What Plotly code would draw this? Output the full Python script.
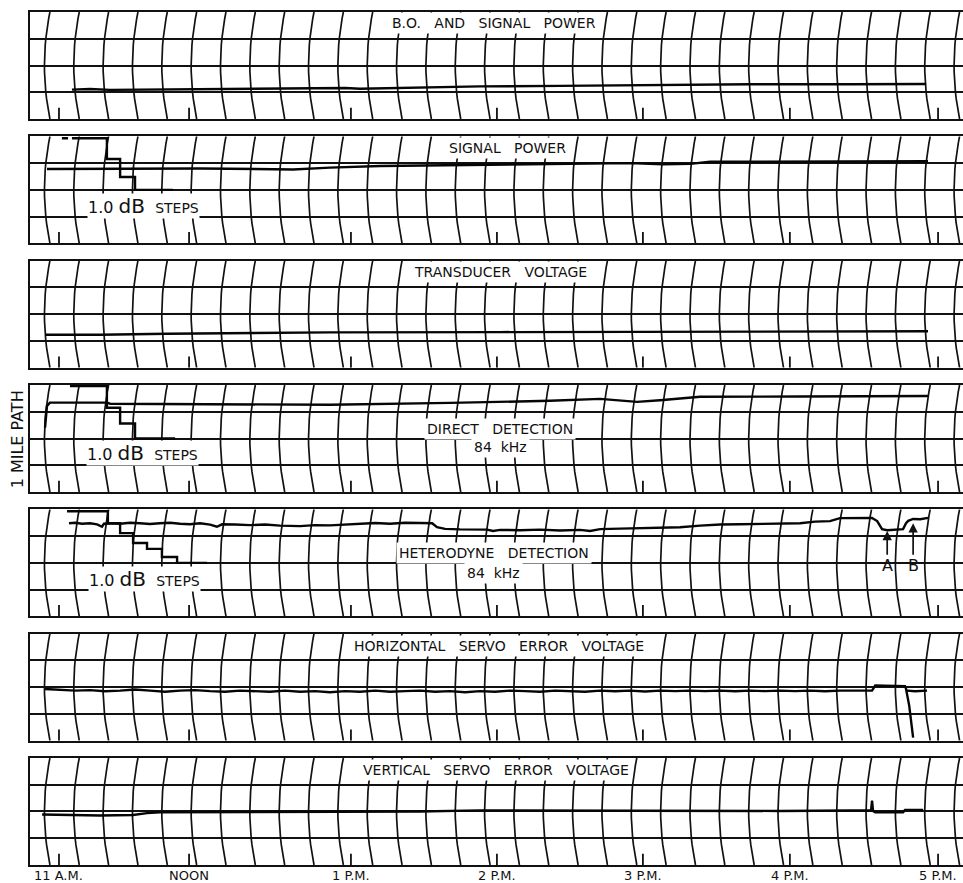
import plotly.graph_objects as go
from plotly.subplots import make_subplots

# ---------------------------------------------------------------
# Recorder strip charts, 1 mile path.  Time is minutes after 11 A.M.
# (recorder chart time), readings are in chart divisions (0 = bottom,
# 4 = top of each strip).
# ---------------------------------------------------------------

hour_marks = [0.4, 53.6, 119.8, 179.5, 239.2, 299.3, 359.9]
hour_labels = ["11 A.M.", "NOON", "1 P.M.", "2 P.M.", "3 P.M.", "4 P.M.", "5 P.M."]

# B.O. and signal power
bo_t = [5.7, 13.1, 21.3, 37.6, 58.1, 78.5, 99.0, 117.4, 123.5, 148.1, 172.6, 205.3, 242.1, 283.0, 323.9, 355.0]
bo_v = [1.10, 1.12, 1.09, 1.10, 1.12, 1.12, 1.14, 1.16, 1.13, 1.18, 1.22, 1.24, 1.28, 1.30, 1.30, 1.31]

# Signal power
sig_t = [-4.5, 21.3, 58.1, 96.1, 111.2, 131.7, 193.0, 233.9, 247.4, 258.5, 266.7, 303.5, 355.8]
sig_v = [2.78, 2.79, 2.80, 2.76, 2.83, 2.89, 2.95, 3.00, 2.95, 2.97, 3.05, 3.06, 3.07]
sig_cal_t = [1.6, 4.1, None, 5.7, 20.0, 20.0, 25.4, 25.4, 31.5, 31.5, 47.0]
sig_cal_v = [3.93, 3.93, None, 3.93, 3.93, 3.15, 3.15, 2.48, 2.48, 2.00, 2.00]

# Transducer voltage
trans_t = [-5.3, 17.2, 44.6, 85.5, 111.2, 180.8, 262.6, 355.8]
trans_v = [1.23, 1.23, 1.27, 1.31, 1.32, 1.33, 1.35, 1.36]

# Direct detection, 84 kHz
direct_t = [-5.3, -4.5, -3.3, 20.0, 21.3, 58.1, 111.2, 160.3, 201.2, 221.7, 236.8, 246.2, 262.6, 303.5, 355.8]
direct_v = [2.41, 3.22, 3.34, 3.34, 3.30, 3.29, 3.26, 3.33, 3.41, 3.48, 3.37, 3.43, 3.56, 3.57, 3.59]
direct_cal_t = [4.9, 20.0, 20.0, 25.4, 25.4, 31.5, 31.5, 47.9]
direct_cal_v = [3.96, 3.96, 3.15, 3.15, 2.56, 2.56, 2.00, 2.00]

# Heterodyne detection, 84 kHz
het_t = [4.5, 7.0, 9.8, 13.1, 16.0, 18.0, 18.8, 22.1, 25.4, 29.4, 33.5, 37.6, 41.7, 45.8, 49.9,
         54.0, 58.1, 62.2, 65.0, 67.1, 72.4, 78.5, 84.7, 90.8, 99.0, 105.1, 111.2, 117.4, 123.5,
         129.7, 135.8, 141.9, 148.1, 153.0, 155.0, 158.3, 164.4, 170.6, 175.5, 177.9, 180.8,
         189.0, 197.1, 205.3, 213.5, 217.6, 221.7, 229.9, 238.0, 246.2, 254.4, 262.6, 270.8,
         278.9, 287.1, 295.3, 303.5, 309.6, 315.7, 319.8, 326.0, 332.9, 335.0, 337.0, 339.1,
         342.3, 345.6, 346.8, 347.7, 349.7, 352.6, 355.8]
het_v = [3.48, 3.50, 3.46, 3.48, 3.44, 3.35, 3.46, 3.48, 3.46, 3.50, 3.48, 3.45, 3.48, 3.50, 3.46,
         3.44, 3.48, 3.43, 3.35, 3.44, 3.43, 3.41, 3.43, 3.39, 3.37, 3.41, 3.40, 3.43, 3.44,
         3.49, 3.46, 3.50, 3.49, 3.48, 3.33, 3.27, 3.25, 3.26, 3.24, 3.19, 3.23,
         3.22, 3.24, 3.21, 3.23, 3.19, 3.26, 3.28, 3.30, 3.31, 3.33, 3.39, 3.43,
         3.44, 3.46, 3.47, 3.48, 3.54, 3.56, 3.67, 3.67, 3.68, 3.56, 3.26, 3.22,
         3.24, 3.26, 3.48, 3.57, 3.64, 3.63, 3.68]
het_cal_t = [3.7, 20.4, 20.4, 25.4, 25.4, 30.7, 30.7, 36.4, 36.4, 42.5, 42.5, 48.7, 48.7, 60.9]
het_cal_v = [3.93, 3.93, 3.48, 3.48, 3.11, 3.11, 2.74, 2.74, 2.52, 2.52, 2.22, 2.22, 2.00, 2.00]
event_t = [339.1, 349.7]
event_v = [3.19, 3.48]
event_labels = ["A", "B"]

# Horizontal servo error voltage
hor_t = [-5.3, 0.8, 7.0, 13.1, 19.2, 25.4, 31.5, 37.6, 43.8, 49.9, 56.0, 62.2, 68.3, 74.4,
         80.6, 86.7, 92.8, 99.0, 105.1, 111.2, 117.4, 123.5, 129.7, 135.8, 141.9, 148.1,
         154.2, 160.3, 166.5, 172.6, 178.7, 184.9, 191.0, 197.1, 203.3, 209.4, 215.5, 221.7,
         227.8, 233.9, 240.1, 246.2, 252.4, 258.5, 264.6, 270.8, 276.9, 283.0, 289.2, 295.3,
         301.4, 307.6, 313.7, 319.8, 326.0, 332.9, 334.2, 340.3, 346.4, 346.8, 348.1, 349.7]
hor_v = [1.93, 1.91, 1.87, 1.89, 1.85, 1.87, 1.91, 1.87, 1.83, 1.87, 1.89, 1.85, 1.83, 1.87,
         1.85, 1.83, 1.87, 1.83, 1.85, 1.81, 1.85, 1.83, 1.87, 1.83, 1.85, 1.87,
         1.83, 1.85, 1.81, 1.85, 1.83, 1.87, 1.85, 1.83, 1.87, 1.85, 1.83, 1.87,
         1.85, 1.87, 1.84, 1.87, 1.85, 1.87, 1.85, 1.87, 1.85, 1.87, 1.85, 1.87,
         1.85, 1.87, 1.85, 1.87, 1.86, 1.87, 2.06, 2.04, 2.04, 1.94, 1.31, 0.11]
hor_tail_t = [347.2, 350.5, 355.4]
hor_tail_v = [1.87, 1.85, 1.87]

# Vertical servo error voltage
ver_t = [-6.5, 4.9, 17.2, 30.7, 36.4, 41.7, 78.5, 99.0, 112.5, 148.1, 172.6, 205.3, 238.0,
         262.6, 295.3, 323.9, 332.5, 332.9, 333.3, 334.2, 345.6, 346.4, 353.8]
ver_v = [1.89, 1.88, 1.85, 1.87, 1.94, 1.97, 1.98, 1.97, 2.00, 2.00, 2.04, 2.03, 2.04,
         2.01, 2.02, 2.04, 2.04, 2.41, 2.02, 1.97, 1.97, 2.06, 2.06]

panel_titles = [
    ["B.O.   AND   SIGNAL   POWER"],
    ["SIGNAL   POWER"],
    ["TRANSDUCER   VOLTAGE"],
    ["DIRECT   DETECTION", "84  kHz"],
    ["HETERODYNE   DETECTION", "84  kHz"],
    ["HORIZONTAL   SERVO   ERROR   VOLTAGE"],
    ["VERTICAL   SERVO   ERROR   VOLTAGE"],
]
title_t = [178.1, 183.8, 180.8, 180.8, 178.1, 180.2, 179.1]
title_v = [[3.58], [3.56], [3.59], [2.37, 1.70], [2.37, 1.63], [3.55], [3.56]]

step_rows = [2, 4, 5]
step_t = [35.0, 34.4, 35.2]
step_v = [1.38, 1.44, 1.40]

# ---------------------------------------------------------------
INK = "#111111"
FONT = "DejaVu Sans"
X_RANGE = [-11.45, 370.1]
N_ROWS = 7

fig = make_subplots(rows=N_ROWS, cols=1, shared_xaxes=False, vertical_spacing=0.0203)


def chart_arcs():
    """Curved time lines of the recorder paper, one every 12 minutes."""
    xs, ys = [], []
    sag = 2.25
    start = -3.3
    k = 0
    while start + 12.0 * k < X_RANGE[1] + 3:
        x0 = start + 12.0 * k
        for i in range(17):
            v = 4.0 * i / 16
            xs.append(x0 - sag * (1 - ((v - 2.0) / 2.0) ** 2))
            ys.append(v)
        xs.append(None)
        ys.append(None)
        k += 1
    return xs, ys


def timing_marks():
    xs, ys = [], []
    for t in hour_marks:
        xs += [t, t, None]
        ys += [0, 0.42, None]
    return xs, ys


arc_x, arc_y = chart_arcs()
mark_x, mark_y = timing_marks()

series = {
    1: [(bo_t, bo_v)],
    2: [(sig_t, sig_v), (sig_cal_t, sig_cal_v)],
    3: [(trans_t, trans_v)],
    4: [(direct_t, direct_v), (direct_cal_t, direct_cal_v)],
    5: [(het_t, het_v), (het_cal_t, het_cal_v)],
    6: [(hor_t, hor_v), (hor_tail_t, hor_tail_v)],
    7: [(ver_t, ver_v)],
}

for r in range(1, N_ROWS + 1):
    fig.add_trace(go.Scatter(x=arc_x, y=arc_y, mode="lines",
                             line=dict(color=INK, width=1.7),
                             hoverinfo="skip", showlegend=False), row=r, col=1)
    fig.add_trace(go.Scatter(x=mark_x, y=mark_y, mode="lines",
                             line=dict(color=INK, width=1.8),
                             hoverinfo="skip", showlegend=False), row=r, col=1)
    for tx, vy in series[r]:
        fig.add_trace(go.Scatter(x=tx, y=vy, mode="lines",
                                 line=dict(color="#050505", width=2.4),
                                 connectgaps=False,
                                 hoverinfo="skip", showlegend=False), row=r, col=1)
    fig.update_xaxes(range=X_RANGE, showgrid=False, zeroline=False,
                     showticklabels=False, ticks="",
                     showline=True, linecolor=INK, linewidth=2.2, mirror=True,
                     row=r, col=1)
    fig.update_yaxes(range=[0, 4], dtick=1, showgrid=True, gridcolor=INK, gridwidth=1.6,
                     zeroline=False, showticklabels=False, ticks="",
                     showline=True, linecolor=INK, linewidth=2.2, mirror=False,
                     row=r, col=1)

annotations = []


def axis_refs(r):
    return ("x" if r == 1 else f"x{r}"), ("y" if r == 1 else f"y{r}")


# Strip titles
for r in range(1, N_ROWS + 1):
    xr, yr = axis_refs(r)
    for txt, v in zip(panel_titles[r - 1], title_v[r - 1]):
        annotations.append(dict(
            x=title_t[r - 1], y=v, xref=xr, yref=yr, showarrow=False,
            text=txt.replace(" ", "\u00a0"),
            font=dict(family=FONT, size=14, color=INK),
            bgcolor="white", borderpad=2))

# Calibration step labels
for r, t, v in zip(step_rows, step_t, step_v):
    xr, yr = axis_refs(r)
    annotations.append(dict(
        x=t, y=v, xref=xr, yref=yr, showarrow=False,
        text="1.0\u00a0<span style='font-size:20px'>dB</span>\u00a0\u00a0"
             "<span style='font-size:14px'>STEPS</span>",
        font=dict(family=FONT, size=16, color=INK),
        bgcolor="white", borderpad=0))

# Event arrows A and B on the heterodyne strip
xr, yr = axis_refs(5)
for t, v, lab in zip(event_t, event_v, event_labels):
    annotations.append(dict(
        x=t, y=v, xref=xr, yref=yr, ax=t, ay=1.89, axref=xr, ayref=yr,
        text=lab, showarrow=True, arrowhead=2, arrowsize=1.1, arrowwidth=1.7,
        arrowcolor=INK, standoff=0, startstandoff=0,
        font=dict(family=FONT, size=16, color=INK)))

# Time labels beneath the last strip
xr, yr = axis_refs(N_ROWS)
for t, lab in zip(hour_marks, hour_labels):
    annotations.append(dict(
        x=t, y=0, xref=xr, yref=yr, yshift=-2, yanchor="top", showarrow=False,
        text=lab.replace(" ", "\u00a0"),
        font=dict(family=FONT, size=13, color=INK), borderpad=0))

# Path label on the left margin
annotations.append(dict(
    x=0, y=0.499, xref="paper", yref="paper", xshift=-13, showarrow=False,
    xanchor="center", yanchor="middle",
    text="1\u00a0MILE\u00a0PATH", textangle=-90,
    font=dict(family=FONT, size=16, color=INK)))

fig.update_layout(
    width=963, height=883,
    margin=dict(l=30, r=0, t=12, b=18),
    plot_bgcolor="white", paper_bgcolor="white",
    annotations=annotations,
    showlegend=False,
)

fig.write_html("out.html", config={"displayModeBar": False})
